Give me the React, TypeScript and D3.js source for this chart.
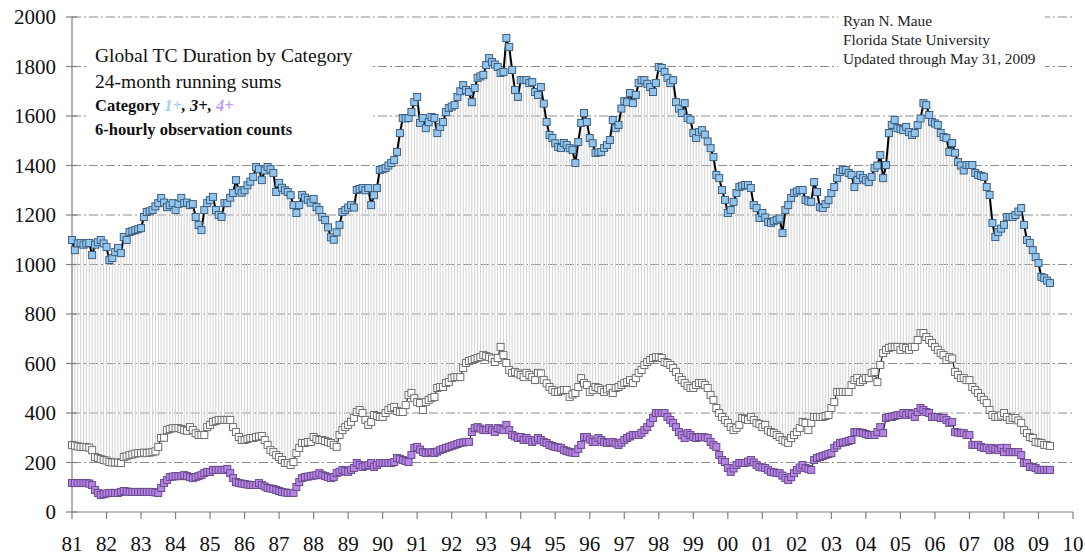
import React from "react";
import * as d3 from "d3";

// 24-month running sums, monthly from Jan 1981 to May 2009
const cat1 = [
  1099, 1058, 1085, 1087, 1080, 1085, 1087, 1038, 1080, 1090, 1099, 1085, // 81
  1071, 1018, 1026, 1050, 1067, 1046, 1111, 1099, 1131, 1135, 1139, 1143, // 82
  1147, 1192, 1212, 1215, 1220, 1235, 1248, 1269, 1250, 1232, 1240, 1248, // 83
  1220, 1245, 1269, 1248, 1250, 1240, 1244, 1192, 1160, 1139, 1220, 1248, // 84
  1260, 1273, 1220, 1200, 1192, 1248, 1248, 1270, 1289, 1341, 1300, 1290, // 85
  1300, 1320, 1335, 1354, 1394, 1385, 1341, 1380, 1394, 1385, 1370, 1293, // 86
  1330, 1310, 1300, 1293, 1280, 1240, 1208, 1240, 1281, 1270, 1261, 1250, // 87
  1265, 1232, 1220, 1192, 1180, 1150, 1110, 1100, 1130, 1160, 1212, 1220, // 88
  1230, 1240, 1230, 1301, 1305, 1309, 1300, 1309, 1240, 1280, 1309, 1382, // 89
  1385, 1390, 1400, 1410, 1422, 1455, 1531, 1592, 1590, 1592, 1616, 1656, // 90
  1677, 1572, 1592, 1551, 1575, 1596, 1592, 1531, 1556, 1576, 1616, 1632, // 91
  1638, 1644, 1677, 1700, 1725, 1705, 1697, 1656, 1713, 1754, 1760, 1766, // 92
  1806, 1834, 1818, 1808, 1798, 1774, 1778, 1915, 1879, 1786, 1705, 1677, // 93
  1745, 1745, 1745, 1733, 1737, 1697, 1685, 1717, 1650, 1576, 1523, 1511, // 94
  1490, 1475, 1471, 1491, 1483, 1470, 1463, 1410, 1495, 1572, 1612, 1576, // 95
  1511, 1490, 1451, 1453, 1455, 1471, 1483, 1503, 1584, 1551, 1564, 1630, // 96
  1660, 1656, 1693, 1652, 1685, 1733, 1745, 1745, 1730, 1717, 1697, 1733, // 97
  1798, 1794, 1778, 1754, 1733, 1745, 1656, 1630, 1612, 1652, 1592, 1585, // 98
  1531, 1511, 1535, 1543, 1525, 1497, 1470, 1434, 1362, 1349, 1301, 1261, // 99
  1208, 1220, 1253, 1289, 1313, 1318, 1321, 1321, 1309, 1240, 1228, 1188, // 00
  1208, 1190, 1172, 1168, 1175, 1180, 1186, 1127, 1220, 1240, 1269, 1289, // 01
  1295, 1301, 1301, 1261, 1255, 1253, 1333, 1293, 1232, 1228, 1244, 1260, // 02
  1289, 1313, 1349, 1374, 1382, 1382, 1370, 1362, 1313, 1341, 1362, 1349, // 03
  1340, 1333, 1354, 1390, 1400, 1442, 1349, 1402, 1531, 1564, 1584, 1551, // 04
  1548, 1543, 1556, 1535, 1523, 1531, 1564, 1590, 1652, 1644, 1604, 1576, // 05
  1570, 1564, 1531, 1515, 1511, 1455, 1491, 1451, 1414, 1400, 1380, 1402, // 06
  1402, 1402, 1370, 1362, 1358, 1354, 1313, 1281, 1168, 1111, 1131, 1145, // 07
  1160, 1192, 1192, 1192, 1200, 1214, 1228, 1160, 1099, 1087, 1058, 1030, // 08
  1006, 950, 945, 935, 925, // 09
];

const cat3 = [
  271, 268, 265, 263, 263, 262, 260, 250, 222, 218, 214, 210, // 81
  208, 202, 200, 200, 200, 198, 222, 225, 230, 232, 236, 238, // 82
  238, 240, 238, 240, 242, 245, 263, 299, 300, 331, 335, 339, // 83
  339, 339, 335, 331, 328, 343, 331, 318, 311, 311, 311, 343, // 84
  352, 364, 368, 372, 372, 372, 372, 372, 343, 323, 303, 291, // 85
  291, 295, 299, 299, 303, 305, 307, 291, 271, 250, 242, 230, // 86
  222, 210, 198, 198, 190, 202, 238, 259, 279, 279, 283, 283, // 87
  303, 295, 291, 291, 287, 283, 279, 271, 263, 311, 331, 343, // 88
  352, 364, 380, 404, 412, 400, 372, 352, 364, 392, 388, 384, // 89
  384, 400, 412, 420, 424, 408, 404, 404, 432, 473, 481, 460, // 90
  444, 440, 412, 444, 453, 461, 465, 501, 505, 505, 521, 525, // 91
  541, 545, 545, 545, 582, 602, 610, 614, 618, 622, 626, 634, // 92
  630, 626, 620, 606, 622, 667, 634, 602, 574, 562, 566, 560, // 93
  554, 545, 562, 554, 545, 533, 562, 560, 533, 520, 505, 493, // 94
  485, 485, 490, 493, 493, 465, 475, 481, 505, 541, 521, 513, // 95
  485, 493, 505, 501, 493, 485, 495, 501, 481, 501, 505, 513, // 96
  521, 525, 533, 521, 541, 562, 574, 594, 606, 614, 622, 626, // 97
  626, 622, 606, 602, 594, 582, 566, 545, 533, 521, 510, 501, // 98
  501, 513, 521, 521, 513, 501, 473, 453, 420, 400, 384, 372, // 99
  360, 343, 331, 340, 352, 380, 376, 372, 384, 372, 360, 355, // 00
  343, 352, 330, 323, 319, 311, 303, 291, 285, 279, 299, 311, // 01
  323, 339, 364, 360, 331, 360, 384, 384, 384, 384, 388, 392, // 02
  420, 444, 485, 485, 485, 485, 485, 513, 533, 541, 525, 533, // 03
  541, 541, 562, 566, 525, 594, 642, 655, 663, 667, 667, 667, // 04
  655, 667, 663, 655, 667, 667, 695, 723, 723, 707, 695, 683, // 05
  667, 655, 642, 634, 614, 626, 620, 566, 554, 541, 541, 533, // 06
  533, 505, 493, 481, 465, 453, 440, 412, 392, 384, 384, 390, // 07
  400, 384, 372, 380, 380, 370, 360, 331, 319, 303, 299, 283, // 08
  281, 279, 271, 270, 267, // 09
];

const cat4 = [
  117, 117, 117, 117, 117, 117, 115, 109, 89, 77, 69, 72, // 81
  75, 77, 77, 77, 77, 81, 85, 83, 81, 81, 81, 81, // 82
  81, 81, 81, 81, 81, 79, 77, 97, 117, 129, 141, 143, // 83
  145, 145, 145, 149, 145, 141, 137, 141, 145, 149, 157, 162, // 84
  162, 170, 170, 170, 170, 170, 174, 157, 137, 121, 117, 115, // 85
  113, 111, 109, 109, 109, 117, 109, 103, 97, 95, 93, 89, // 86
  85, 81, 79, 77, 77, 77, 101, 121, 137, 141, 143, 145, // 87
  147, 149, 157, 149, 145, 141, 137, 141, 157, 162, 170, 166, // 88
  162, 170, 178, 198, 190, 182, 186, 190, 198, 182, 190, 198, // 89
  198, 198, 198, 198, 202, 218, 215, 210, 206, 202, 230, 259, // 90
  263, 252, 242, 238, 240, 242, 238, 244, 250, 255, 259, 263, // 91
  267, 271, 275, 279, 281, 283, 283, 323, 339, 343, 337, 331, // 92
  331, 339, 331, 323, 339, 335, 331, 352, 331, 311, 305, 299, // 93
  303, 291, 299, 291, 283, 290, 299, 291, 283, 279, 271, 267, // 94
  263, 261, 259, 250, 246, 242, 240, 238, 255, 271, 303, 303, // 95
  293, 283, 283, 299, 291, 283, 279, 281, 283, 277, 271, 280, // 96
  291, 299, 305, 311, 311, 311, 320, 331, 343, 360, 380, 400, // 97
  400, 400, 400, 384, 372, 360, 343, 323, 310, 299, 319, 311, // 98
  303, 299, 303, 303, 301, 299, 283, 271, 263, 230, 210, 202, // 99
  178, 162, 176, 190, 198, 198, 198, 204, 210, 200, 190, 182, // 00
  180, 178, 170, 162, 160, 157, 157, 147, 137, 129, 141, 157, // 01
  170, 180, 190, 178, 174, 170, 210, 218, 222, 226, 230, 234, // 02
  238, 259, 269, 279, 281, 283, 287, 291, 323, 323, 321, 319, // 03
  315, 311, 311, 311, 323, 343, 319, 380, 384, 384, 388, 392, // 04
  392, 400, 392, 400, 395, 384, 404, 420, 412, 404, 400, 384, // 05
  384, 384, 380, 380, 372, 360, 364, 323, 321, 319, 319, 311, // 06
  311, 271, 271, 271, 263, 259, 259, 250, 259, 255, 250, 259, // 07
  242, 259, 242, 242, 242, 242, 230, 198, 198, 182, 182, 178, // 08
  170, 170, 170, 170, 170, // 09
];

const yearLabels = ["81", "82", "83", "84", "85", "86", "87", "88", "89", "90", "91", "92", "93", "94", "95",
  "96", "97", "98", "99", "00", "01", "02", "03", "04", "05", "06", "07", "08", "09", "10"];
const yTicks = [0, 200, 400, 600, 800, 1000, 1200, 1400, 1600, 1800, 2000];
const creditLines = ["Ryan N. Maue", "Florida State University", "Updated through May 31, 2009"];

const firstYear = 1981;
const serif = "'Liberation Serif', 'Times New Roman', serif";

const App = () => {
  const width = 1085;
  const height = 555;

  const x = d3.scaleLinear().domain([firstYear, firstYear + yearLabels.length - 1]).range([72, 1073]);
  const y = d3.scaleLinear().domain([0, 2000]).range([512, 17]);
  const monthX = (i: number) => x(firstYear + i / 12);

  const line = d3.line<number>().x((d, i) => monthX(i)).y((d) => y(d));

  const markers = (data: number[], fill: string, stroke: string) =>
    data.map((d, i) => (
      <rect key={i} x={monthX(i) - 3.5} y={y(d) - 3.5} width={7} height={7} fill={fill} stroke={stroke} strokeWidth={1} />
    ));

  return (
    <svg width={width} height={height} style={{ position: "absolute", left: 0, top: 0, background: "white" }}>
      {/* grid */}
      {yTicks.filter((t) => t > 0).map((t) => (
        <line key={t} x1={x.range()[0]} x2={x.range()[1]} y1={y(t)} y2={y(t)}
          stroke="#8c8c8c" strokeWidth={1} strokeDasharray="9 3 2 3" />
      ))}

      {/* text boxes hide the grid */}
      <rect x={88} y={36} width={282} height={108} fill="white" />
      <rect x={838} y={4} width={207} height={68} fill="white" />

      {/* drop lines from Cat 1+ to Cat 3+ */}
      {cat1.map((d, i) => (
        <line key={i} x1={monthX(i)} x2={monthX(i)} y1={y(d)} y2={y(cat3[i])} stroke="#d2d2d2" strokeWidth={1} />
      ))}

      {/* axes */}
      <line x1={72} x2={72} y1={y(2000)} y2={y(0)} stroke="#808080" strokeWidth={1.2} />
      <line x1={72} x2={x.range()[1]} y1={y(0)} y2={y(0)} stroke="#808080" strokeWidth={1.2} />
      {yTicks.map((t) => (
        <g key={t}>
          <line x1={66} x2={77} y1={y(t)} y2={y(t)} stroke="#808080" strokeWidth={1.2} />
          <text x={56} y={y(t)} dy="0.35em" textAnchor="end" fontFamily={serif} fontSize={21} fill="#111">{t}</text>
        </g>
      ))}
      {yearLabels.map((lab, i) => (
        <g key={lab}>
          <line x1={x(firstYear + i)} x2={x(firstYear + i)} y1={y(0)} y2={y(0) + 7} stroke="#808080" strokeWidth={1.2} />
          <text x={x(firstYear + i)} y={551} textAnchor="middle" fontFamily={serif} fontSize={21} fill="#111">{lab}</text>
        </g>
      ))}

      {/* series */}
      <path d={line(cat4) ?? ""} fill="none" stroke="#000" strokeWidth={1} />
      {markers(cat4, "#b683e6", "#6b4c8c")}
      <path d={line(cat3) ?? ""} fill="none" stroke="#000" strokeWidth={1} />
      {markers(cat3, "#ffffff", "#6f6f6f")}
      <path d={line(cat1) ?? ""} fill="none" stroke="#000" strokeWidth={2} />
      {markers(cat1, "#92c5ee", "#3f5f7f")}

      {/* title block */}
      <g fontFamily={serif} fill="#111">
        <text x={95} y={62} fontSize={19.5}>Global TC Duration by Category</text>
        <text x={95} y={88} fontSize={19.5}>24-month running sums</text>
        <text x={95} y={111} fontSize={16.5} fontWeight="bold">
          Category{" "}
          <tspan fontStyle="italic" fill="#a9d0f2">1+</tspan>
          <tspan fontStyle="italic">, 3+, </tspan>
          <tspan fontStyle="italic" fill="#c49cf0">4+</tspan>
        </text>
        <text x={95} y={135} fontSize={16.5} fontWeight="bold">6-hourly observation counts</text>
      </g>
      <g fontFamily={serif} fill="#222" fontSize={15.3}>
        {creditLines.map((s, i) => (
          <text key={s} x={843} y={26 + i * 19}>{s}</text>
        ))}
      </g>
    </svg>
  );
};

export default App;
